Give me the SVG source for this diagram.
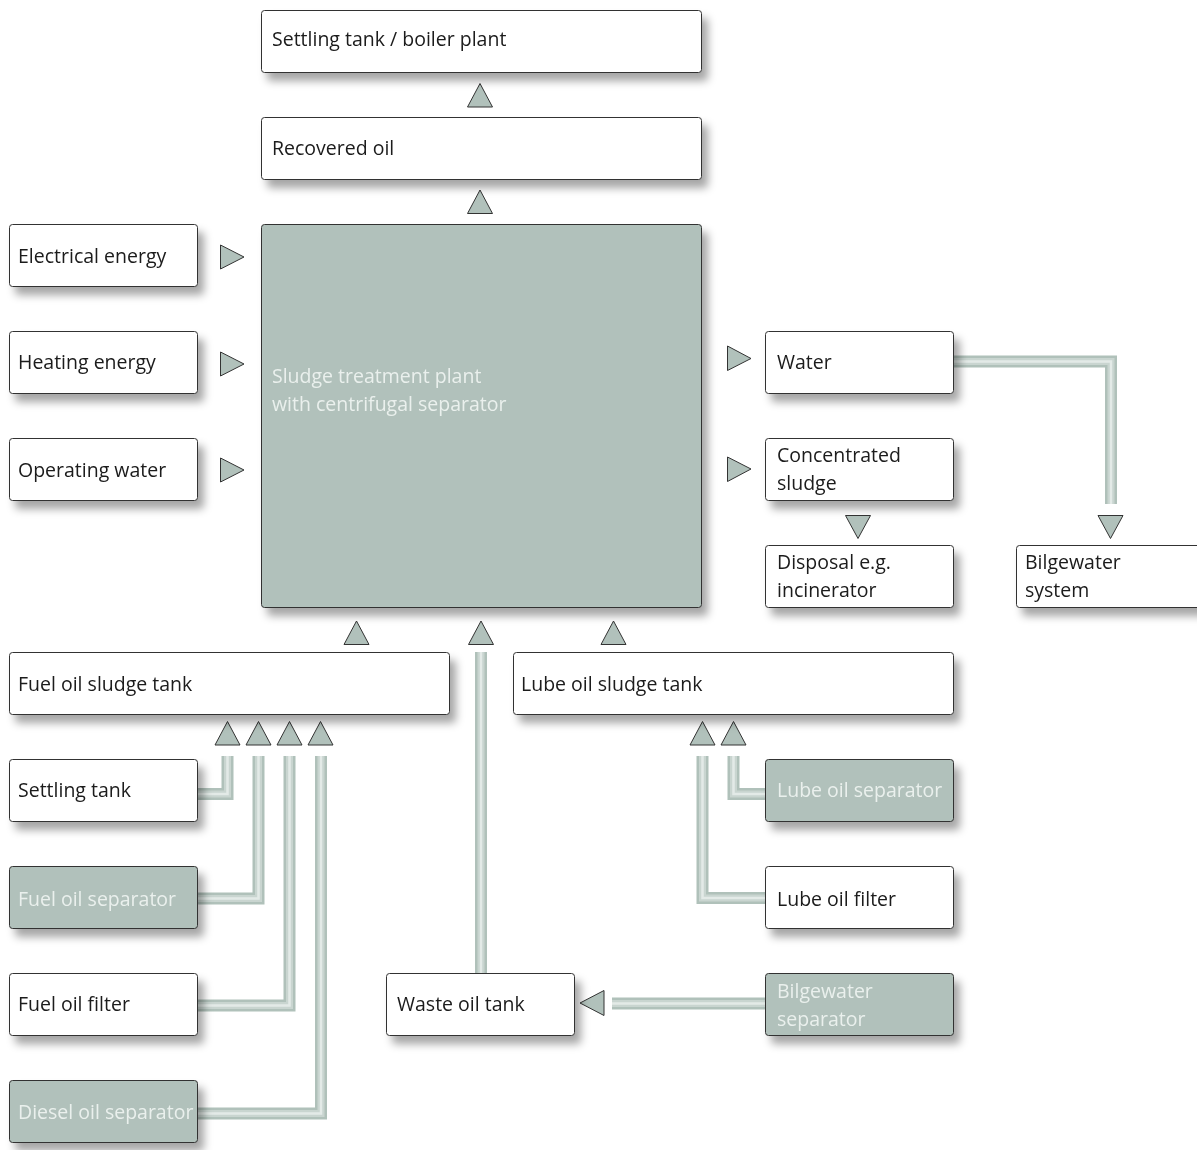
<svg xmlns="http://www.w3.org/2000/svg" width="1197" height="1150" viewBox="0 0 1197 1150">
<defs>
<filter id="sh" x="-10%" y="-20%" width="130%" height="160%">
<feGaussianBlur in="SourceAlpha" stdDeviation="4"/>
<feOffset dx="6" dy="8" result="b"/>
<feFlood flood-color="#000" flood-opacity="0.35"/>
<feComposite in2="b" operator="in"/>
<feMerge><feMergeNode/><feMergeNode in="SourceGraphic"/></feMerge>
</filter>
</defs>
<style>
.bx{fill:#fff;stroke:#333;stroke-width:1}
.gx{fill:#b1c1bb;stroke:#333;stroke-width:1}
.t{font-family:"Open Sans","Noto Sans",sans-serif;font-size:19.5px;fill:#1a1a1a}
.tl{font-family:"Open Sans","Noto Sans",sans-serif;font-size:19.5px;fill:#eaf0ed}
.tri{fill:#b1c1bb;stroke:#333;stroke-width:1;stroke-linejoin:miter}
.p1{fill:none;stroke:#b0c1ba;stroke-width:12}
.p2{fill:none;stroke:#c9d5d0;stroke-width:7}
.p3{fill:none;stroke:#e3eae7;stroke-width:2.5}
</style>
<rect width="1197" height="1150" fill="#fff"/>

<g id="connectors">
<g id="pipes">
<g class="p1">
<path d="M954,361.5 H1111 V504"/>
<path d="M198,794 H227.5 V756"/>
<path d="M198,898.5 H258.5 V756"/>
<path d="M198,1005.5 H289.5 V756"/>
<path d="M198,1113.5 H321 V756"/>
<path d="M765,794 H733.5 V756"/>
<path d="M765,898 H702.5 V756"/>
<path d="M765,1003.5 H612"/>
<path d="M481,973 V652"/>
</g>
<g class="p2">
<path d="M954,361.5 H1111 V504"/>
<path d="M198,794 H227.5 V756"/>
<path d="M198,898.5 H258.5 V756"/>
<path d="M198,1005.5 H289.5 V756"/>
<path d="M198,1113.5 H321 V756"/>
<path d="M765,794 H733.5 V756"/>
<path d="M765,898 H702.5 V756"/>
<path d="M765,1003.5 H612"/>
<path d="M481,973 V652"/>
</g>
<g class="p3">
<path d="M954,361.5 H1111 V504"/>
<path d="M198,794 H227.5 V756"/>
<path d="M198,898.5 H258.5 V756"/>
<path d="M198,1005.5 H289.5 V756"/>
<path d="M198,1113.5 H321 V756"/>
<path d="M765,794 H733.5 V756"/>
<path d="M765,898 H702.5 V756"/>
<path d="M765,1003.5 H612"/>
<path d="M481,973 V652"/>
</g>
</g>
<g id="arrows">
<polygon class="tri" points="467.5,107 492.5,107 480,83.5"/>
<polygon class="tri" points="467.5,213.5 492.5,213.5 480,190"/>
<polygon class="tri" points="220.5,245 220.5,269 244,257"/>
<polygon class="tri" points="220.5,352 220.5,376 244,364"/>
<polygon class="tri" points="220.5,458 220.5,482 244,470"/>
<polygon class="tri" points="727.5,346 727.5,370.5 751,358.5"/>
<polygon class="tri" points="727.5,457 727.5,481.5 751,469"/>
<polygon class="tri" points="845.5,515.5 870.5,515.5 858,538.5"/>
<polygon class="tri" points="1098,515.5 1123,515.5 1110.5,538.5"/>
<polygon class="tri" points="344,644.5 369,644.5 356.5,621"/>
<polygon class="tri" points="468.5,644.5 493.5,644.5 481,621"/>
<polygon class="tri" points="601,644.5 626,644.5 613.5,621"/>
<polygon class="tri" points="215,745 240,745 227.5,721.5"/>
<polygon class="tri" points="246,745 271,745 258.5,721.5"/>
<polygon class="tri" points="277,745 302,745 289.5,721.5"/>
<polygon class="tri" points="308,745 333,745 320.5,721.5"/>
<polygon class="tri" points="690,745 715,745 702.5,721.5"/>
<polygon class="tri" points="721,745 746,745 733.5,721.5"/>
<polygon class="tri" points="604,990.5 604,1015.5 580,1003"/>
</g>
</g>

<g id="settling-boiler" filter="url(#sh)"><rect class="bx" x="261.5" y="10.5" width="440" height="62" rx="3"/><text class="t" x="272" y="46">Settling tank / boiler plant</text></g>
<g id="recovered-oil" filter="url(#sh)"><rect class="bx" x="261.5" y="117.5" width="440" height="62" rx="3"/><text class="t" x="272" y="155">Recovered oil</text></g>
<g id="main-plant" filter="url(#sh)"><rect class="gx" x="261.5" y="224.5" width="440" height="383" rx="3"/><text class="tl" x="272" y="383">Sludge treatment plant</text><text class="tl" x="272" y="411">with centrifugal separator</text></g>

<g id="electrical" filter="url(#sh)"><rect class="bx" x="9.5" y="224.5" width="188" height="62" rx="3"/><text class="t" x="18" y="263">Electrical energy</text></g>
<g id="heating" filter="url(#sh)"><rect class="bx" x="9.5" y="331.5" width="188" height="62" rx="3"/><text class="t" x="18" y="369">Heating energy</text></g>
<g id="operating-water" filter="url(#sh)"><rect class="bx" x="9.5" y="438.5" width="188" height="62" rx="3"/><text class="t" x="18" y="477">Operating water</text></g>

<g id="water" filter="url(#sh)"><rect class="bx" x="765.5" y="331.5" width="188" height="62" rx="3"/><text class="t" x="777" y="369">Water</text></g>
<g id="conc-sludge" filter="url(#sh)"><rect class="bx" x="765.5" y="438.5" width="188" height="62" rx="3"/><text class="t" x="777" y="462">Concentrated</text><text class="t" x="777" y="490">sludge</text></g>
<g id="disposal" filter="url(#sh)"><rect class="bx" x="765.5" y="545.5" width="188" height="62" rx="3"/><text class="t" x="777" y="569">Disposal e.g.</text><text class="t" x="777" y="597">incinerator</text></g>
<g id="bilge-system" filter="url(#sh)"><rect class="bx" x="1016.5" y="545.5" width="200" height="62" rx="3"/><text class="t" x="1025" y="569">Bilgewater</text><text class="t" x="1025" y="597">system</text></g>

<g id="fo-sludge" filter="url(#sh)"><rect class="bx" x="9.5" y="652.5" width="440" height="62" rx="3"/><text class="t" x="18" y="691">Fuel oil sludge tank</text></g>
<g id="lo-sludge" filter="url(#sh)"><rect class="bx" x="513.5" y="652.5" width="440" height="62" rx="3"/><text class="t" x="521" y="691">Lube oil sludge tank</text></g>

<g id="settling-tank" filter="url(#sh)"><rect class="bx" x="9.5" y="759.5" width="188" height="62" rx="3"/><text class="t" x="18" y="797">Settling tank</text></g>
<g id="fo-separator" filter="url(#sh)"><rect class="gx" x="9.5" y="866.5" width="188" height="62" rx="3"/><text class="tl" x="18" y="906">Fuel oil separator</text></g>
<g id="fo-filter" filter="url(#sh)"><rect class="bx" x="9.5" y="973.5" width="188" height="62" rx="3"/><text class="t" x="18" y="1011">Fuel oil filter</text></g>
<g id="do-separator" filter="url(#sh)"><rect class="gx" x="9.5" y="1080.5" width="188" height="62" rx="3"/><text class="tl" x="18" y="1119">Diesel oil separator</text></g>

<g id="lo-separator" filter="url(#sh)"><rect class="gx" x="765.5" y="759.5" width="188" height="62" rx="3"/><text class="tl" x="777" y="797">Lube oil separator</text></g>
<g id="lo-filter" filter="url(#sh)"><rect class="bx" x="765.5" y="866.5" width="188" height="62" rx="3"/><text class="t" x="777" y="906">Lube oil filter</text></g>
<g id="waste-oil" filter="url(#sh)"><rect class="bx" x="386.5" y="973.5" width="188" height="62" rx="3"/><text class="t" x="397" y="1011">Waste oil tank</text></g>
<g id="bilge-separator" filter="url(#sh)"><rect class="gx" x="765.5" y="973.5" width="188" height="62" rx="3"/><text class="tl" x="777" y="998">Bilgewater</text><text class="tl" x="777" y="1026">separator</text></g>
</svg>
